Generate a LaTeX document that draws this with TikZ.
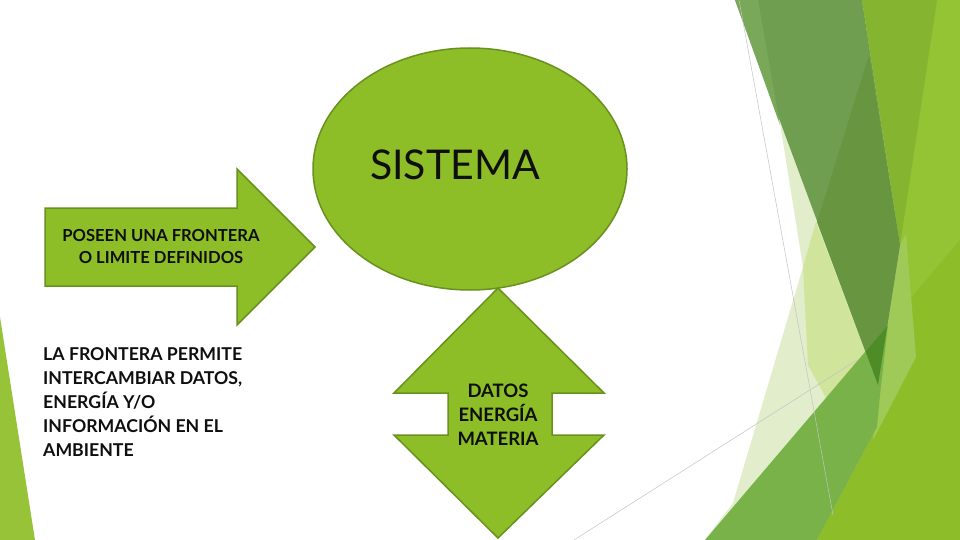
\documentclass[tikz,border=0pt]{standalone}
\usepackage{fontspec}
\setmainfont{Lato}
\usetikzlibrary{shapes.geometric}
\definecolor{shapefill}{RGB}{141,189,39}
\definecolor{shapeline}{RGB}{105,145,30}
\definecolor{txt}{RGB}{15,15,15}
\definecolor{cY}{RGB}{148,195,52}
\definecolor{cYd}{RGB}{141,190,42}
\definecolor{cB}{RGB}{132,180,48}
\definecolor{cL2}{RGB}{160,202,88}
\definecolor{cP}{RGB}{226,237,203}
\definecolor{cL}{RGB}{208,228,155}
\definecolor{cM}{RGB}{112,158,80}
\definecolor{cMl}{RGB}{120,168,88}
\definecolor{cD}{RGB}{104,150,64}
\definecolor{cG}{RGB}{120,178,72}
\definecolor{cTip}{RGB}{78,140,40}
\definecolor{cLeft}{RGB}{150,195,55}
\definecolor{cGray}{RGB}{195,195,195}
\begin{document}
\begin{tikzpicture}[x=1pt,y=-1pt,
  shapestyle/.style={fill=shapefill,draw=shapeline,line width=1.5pt,line join=miter},
  lbl/.style={font=\bfseries\fontsize{16.6}{22}\selectfont,align=center,text=txt,inner sep=0pt},
  thinline/.style={draw=cGray,line width=0.5pt}]
\useasboundingbox (0,0) rectangle (960,540);
\fill[white] (0,0) rectangle (960,540);
% background facets
\fill[cLeft] (0,317) -- (35,540) -- (0,540) -- cycle;
\fill[cY] (862,0) -- (960,0) -- (960,540) -- (817,540) -- (877,427) -- (878,385) -- (900,245) -- cycle;
\fill[cYd] (888,325) -- (960,240) -- (960,540) -- (817,540) -- (877,427) -- (880,395) -- cycle;
\fill[cL2] (900,245) -- (906,234) -- (916,357) -- (873,440) -- (878,385) -- cycle;
\fill[cP] (780,123) -- (803,267) -- (733,503) -- (705,540) -- (817,540) -- (878,385) -- (900,245) -- cycle;
\fill[cL] (816,222) -- (803,267) -- (808,365) -- (830,405) -- (878,385) -- cycle;
\fill[cM] (735,0) -- (862,0) -- (900,245) -- (878,385) -- cycle;
\fill[cB] (862,0) -- (937,0) -- (900,245) -- cycle;
\fill[cMl] (735,0) -- (758,0) -- (780,125) -- cycle;
\fill[cD] (869,55) -- (900,245) -- (878,385) -- (817,222) -- cycle;
\fill[cG] (705,540) -- (888,325) -- (880,395) -- (877,427) -- (817,540) -- cycle;
\begin{scope}
\clip (735,0) -- (862,0) -- (900,245) -- (878,385) -- cycle;
\fill[cTip] (705,540) -- (888,325) -- (880,395) -- (877,427) -- (817,540) -- cycle;
\end{scope}
\coordinate (g1a) at (739,0);
\coordinate (g1b) at (833,515);
\coordinate (g2a) at (574,540);
\coordinate (g2b) at (857,360);
\draw[thinline] (g1a) -- (g1b);
\draw[thinline] (g2a) -- (g2b);
% main shapes
\node[ellipse,shapestyle,minimum width=314pt,minimum height=242pt,inner sep=0pt] (sys) at (470,169) {};
\node[font=\fontsize{41}{50}\selectfont,text=txt,inner sep=0pt] (systxt) at (455,165) {SISTEMA};
\draw[shapestyle] (45,208) -- (237,208) -- (237,169) -- (315,247) -- (237,325) -- (237,286) -- (45,286) -- cycle;
\draw[shapestyle] (498,288) -- (604,393) -- (552,393) -- (552,435) -- (604,435) -- (498,538) -- (394,435) -- (448,435) -- (448,393) -- (394,393) -- cycle;
\node[lbl] (poseen) at (161,246) {POSEEN UNA FRONTERA\\O LIMITE DEFINIDOS};
\node[lbl,font=\bfseries\fontsize{18.5}{24}\selectfont] (datos) at (498,415) {DATOS\\ENERGÍA\\MATERIA};
\node[lbl,align=left,anchor=north west,font=\bfseries\fontsize{17.7}{24}\selectfont] (frontera) at (43,347) {LA FRONTERA PERMITE\\INTERCAMBIAR DATOS,\\ENERGÍA Y/O\\INFORMACIÓN EN EL\\AMBIENTE};
\end{tikzpicture}
\end{document}
